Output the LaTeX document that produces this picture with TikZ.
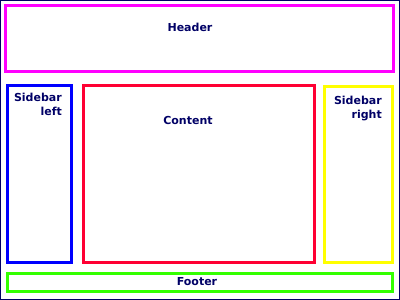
\documentclass[tikz,border=0pt]{standalone}
\usepackage{fontspec}
\setmainfont{DejaVu Sans}
\begin{document}
\begin{tikzpicture}[x=1pt,y=-1pt,
  box/.style={line width=3pt},
  lbl/.style={inner sep=0pt,text=navy,font=\bfseries\fontsize{11}{14}\selectfont}]
\definecolor{navy}{HTML}{000066}
\definecolor{hdr}{HTML}{FF00FF}
\definecolor{sbl}{HTML}{0000FF}
\definecolor{cnt}{HTML}{FF0033}
\definecolor{sbr}{HTML}{FFFF00}
\definecolor{ftr}{HTML}{33FF00}
\useasboundingbox (0,0) rectangle (400,300);
\fill[white] (0,0) rectangle (400,300);
\draw[navy,line width=1pt] (0.5,0.5) rectangle (399.5,299.5);
\draw[box,hdr] (5.5,5.5) rectangle (393.5,71.5);
\draw[box,sbl] (7.5,85.5) rectangle (71.5,262.5);
\draw[box,cnt] (83.5,85.5) rectangle (314.5,262.5);
\draw[box,sbr] (324.5,86) rectangle (392,262.5);
\draw[box,ftr] (7.5,273.5) rectangle (392.5,291.5);
\node[lbl] (header) at (190,27) {Header};
\node[lbl,align=right,anchor=north east] (sidebarleft) at (62,93) {Sidebar\\left};
\node[lbl] (content) at (188,120) {Content};
\node[lbl,align=right,anchor=north east] (sidebarright) at (382,96) {Sidebar\\right};
\node[lbl] (footer) at (197,282) {Footer};
\end{tikzpicture}
\end{document}
